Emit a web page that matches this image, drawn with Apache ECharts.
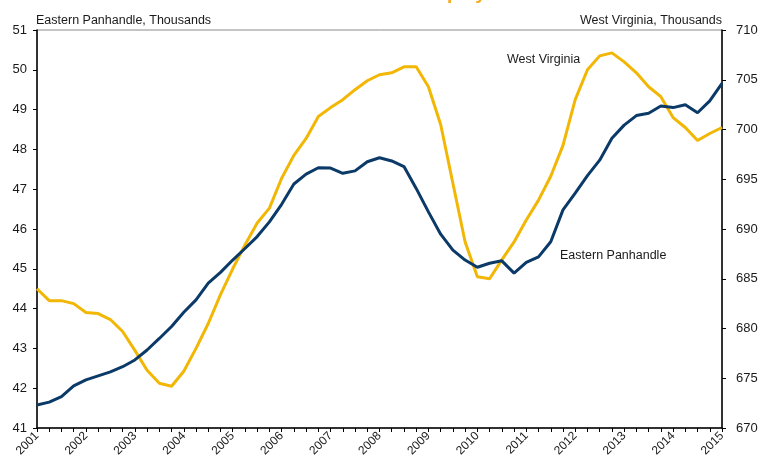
<!DOCTYPE html>
<html>
<head>
<meta charset="utf-8">
<script src="https://cdn.jsdelivr.net/npm/echarts@6/dist/echarts.min.js"></script>
<style>html,body{margin:0;padding:0;background:#fff}#c{width:763px;height:466px}</style>
</head>
<body>
<div id="c"></div>
<script>
// Quarterly data, 2001Q1 .. 2015Q1
var years = [2001,2002,2003,2004,2005,2006,2007,2008,2009,2010,2011,2012,2013,2014,2015];
var quarters = ['Q1','Q2','Q3','Q4'];

// Eastern Panhandle, thousands (left axis)
var easternPanhandle = [
  41.58,41.65,41.79,42.06,42.21,42.31,42.41,42.54,
  42.71,42.96,43.25,43.55,43.91,44.22,44.64,44.91,
  45.22,45.51,45.81,46.18,46.62,47.13,47.38,47.54,
  47.53,47.40,47.46,47.69,47.79,47.71,47.57,47.02,
  46.43,45.87,45.47,45.22,45.04,45.14,45.20,44.89,
  45.16,45.30,45.68,46.48,46.90,47.34,47.73,48.28,
  48.61,48.85,48.91,49.09,49.05,49.12,48.92,49.22,
  49.66
];

// West Virginia, thousands (right axis)
var westVirginia = [
  684.0,682.8,682.8,682.5,681.6,681.5,680.9,679.7,
  677.8,675.8,674.5,674.2,675.7,678.0,680.5,683.4,
  686.0,688.4,690.6,692.1,695.1,697.4,699.1,701.3,
  702.2,703.0,704.0,704.9,705.5,705.7,706.3,706.3,
  704.3,700.5,694.6,688.7,685.2,685.0,686.9,688.7,
  690.9,692.9,695.3,698.4,703.0,706.0,707.4,707.7,
  706.8,705.7,704.3,703.3,701.2,700.2,698.9,699.6,
  700.2
];

var categories = [];
years.forEach(function (y) {
  quarters.forEach(function (q) {
    if (categories.length < easternPanhandle.length) categories.push(y + q);
  });
});

var titleText = 'Total Nonfarm Employment';
var leftAxisName = 'Eastern Panhandle, Thousands';
var rightAxisName = 'West Virginia, Thousands';

var navy = '#0B3A68';
var gold = '#F2B705';
var txt = '#1a1a1a';
var fontFam = '"Liberation Sans", Arial, Helvetica, sans-serif';

var chart = echarts.init(document.getElementById('c'), null, {renderer: 'canvas'});
chart.setOption({
  animation: false,
  backgroundColor: '#fff',
  grid: {left: 37, right: 41, top: 30, bottom: 38, show: true, borderColor: '#8a8a8a', borderWidth: 1},
  graphic: [
    {type: 'text', x: 408, y: 3, style: {text: titleText, fill: '#F5A81C', font: 'bold 19px ' + fontFam, align: 'center', verticalAlign: 'bottom'}},
    {type: 'text', x: 36, y: 27, style: {text: leftAxisName, fill: txt, font: '12.5px ' + fontFam, align: 'left', verticalAlign: 'bottom'}},
    {type: 'text', x: 722, y: 27, style: {text: rightAxisName, fill: txt, font: '12.5px ' + fontFam, align: 'right', verticalAlign: 'bottom'}},
    {type: 'text', x: 507, y: 60, style: {text: 'West Virginia', fill: txt, font: '12.5px ' + fontFam, align: 'left', verticalAlign: 'middle'}},
    {type: 'text', x: 560, y: 256, style: {text: 'Eastern Panhandle', fill: txt, font: '12.5px ' + fontFam, align: 'left', verticalAlign: 'middle'}}
  ],
  xAxis: {
    type: 'category',
    data: categories,
    boundaryGap: false,
    axisLine: {show: true, lineStyle: {color: '#000', width: 1.5}},
    axisTick: {show: true, interval: 0, length: 4, inside: false, lineStyle: {color: '#000', width: 1}},
    axisLabel: {
      interval: 3, rotate: 45, margin: 6, color: txt, fontSize: 12, fontFamily: fontFam,
      formatter: function (v) { return v.slice(0, 4); }
    },
    splitLine: {show: false}
  },
  yAxis: [
    {
      type: 'value', position: 'left', min: 41, max: 51, interval: 1,
      axisLine: {show: true, lineStyle: {color: '#000', width: 1.5}},
      axisTick: {show: true, length: 4, lineStyle: {color: '#000'}},
      axisLabel: {margin: 10, color: txt, fontSize: 13, fontFamily: fontFam},
      splitLine: {show: false}
    },
    {
      type: 'value', position: 'right', min: 670, max: 710, interval: 5,
      axisLine: {show: true, lineStyle: {color: '#000', width: 1.5}},
      axisTick: {show: true, length: 4, lineStyle: {color: '#000'}},
      axisLabel: {margin: 14, color: txt, fontSize: 13, fontFamily: fontFam},
      splitLine: {show: false}
    }
  ],
  series: [
    {
      name: 'West Virginia', type: 'line', yAxisIndex: 1, data: westVirginia,
      showSymbol: false, symbol: 'none', lineStyle: {color: gold, width: 3}, z: 2
    },
    {
      name: 'Eastern Panhandle', type: 'line', yAxisIndex: 0, data: easternPanhandle,
      showSymbol: false, symbol: 'none', lineStyle: {color: navy, width: 3}, z: 3
    }
  ]
});
</script>
</body>
</html>
